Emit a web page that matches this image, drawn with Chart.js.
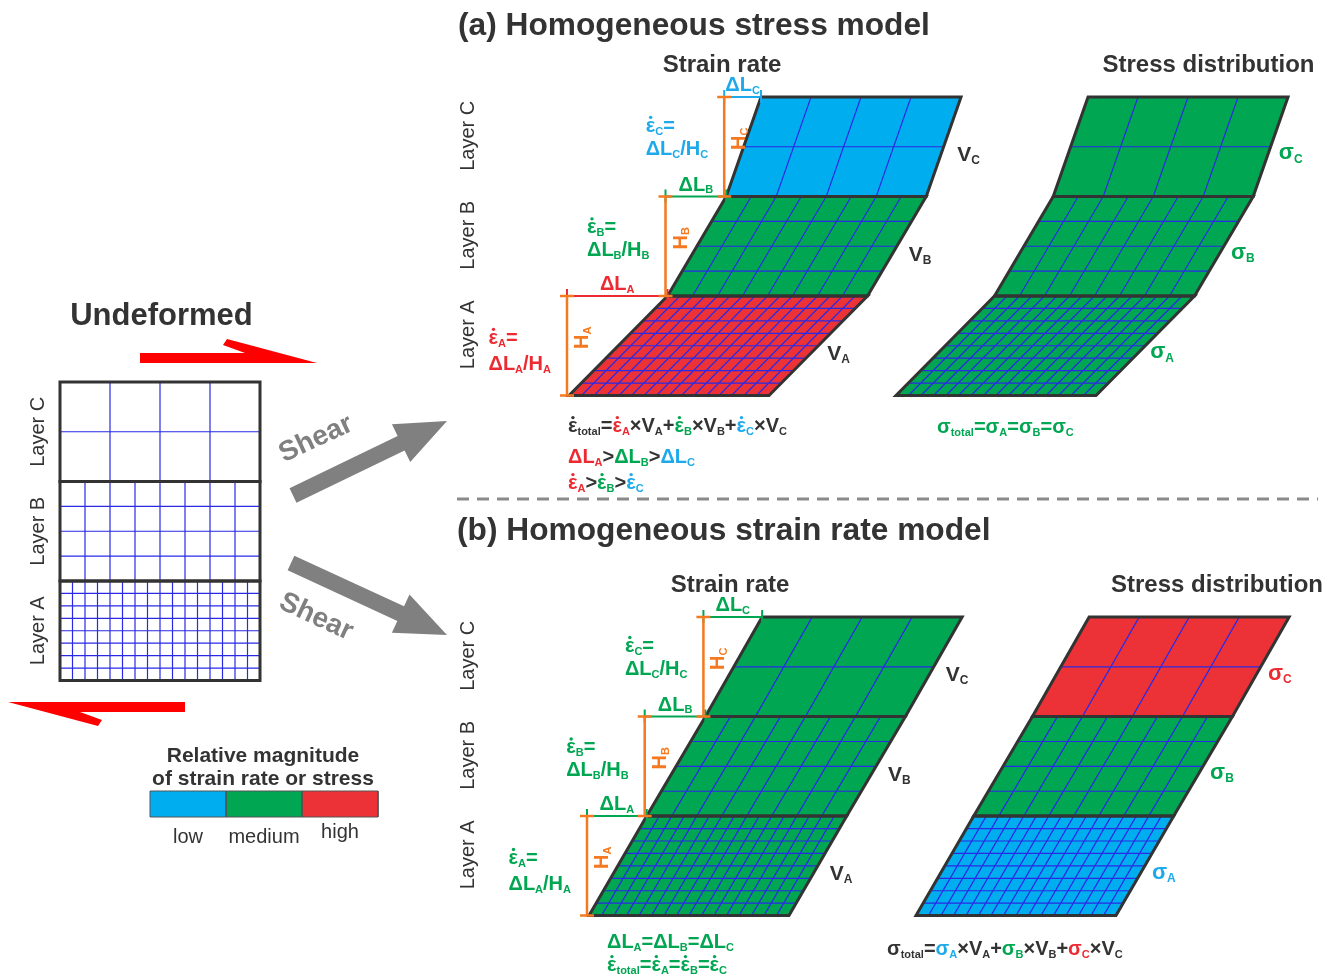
<!DOCTYPE html>
<html>
<head>
<meta charset="utf-8">
<script src="https://cdn.jsdelivr.net/npm/chart.js@4.4.0/dist/chart.umd.min.js"></script>
<style>
html,body{margin:0;padding:0;background:#ffffff;}
canvas{display:block;}
</style>
</head>
<body>
<canvas id="c" width="1339" height="977"></canvas>
<script>
// ====================== DATA ======================
const layerNames = ['A', 'B', 'C'];
const gridColumns = [16, 8, 4];          // cells across each layer
const gridRows = [8, 4, 2];              // cells through each layer
const levelNames = ['low', 'medium', 'high'];
// (a) homogeneous stress model: shear offset ΔL of each layer (in layer thicknesses)
const offsetsStressModel = [0.99, 0.59, 0.35];
const strainLevelsStressModel = ['high', 'medium', 'low'];
const stressLevelsStressModel = ['medium', 'medium', 'medium'];
// (b) homogeneous strain rate model
const offsetsStrainModel = [0.58, 0.59, 0.57];
const strainLevelsStrainModel = ['medium', 'medium', 'medium'];
const stressLevelsStrainModel = ['low', 'medium', 'high'];
// undeformed stack
const offsetsUndeformed = [0, 0, 0];
const levelsUndeformed = ['none', 'none', 'none'];

// ====================== STYLE ======================
const FAM = '"Liberation Sans", Arial, Helvetica, sans-serif';
const FILL = { low: '#00aeef', medium: '#00a651', high: '#ed3237' };
const INK = { low: '#1eaaea', medium: '#00a651', high: '#ec2a32', k: '#333333', o: '#f47920' };
const DARK = '#333333', ORANGE = '#f47920', GRID = '#2a2ae6', GRAY = '#808080', RED = '#fe0000';

// ====================== LAYOUT ======================
const T = 99.5;   // layer thickness (px)
const W = 200;    // layer width (px)
const blocks = [
  { kind: 'undeformed', x0: 60,  y0: 680.5, offsets: offsetsUndeformed,  levels: levelsUndeformed },
  { kind: 'strain',     x0: 569, y0: 395.5, offsets: offsetsStressModel, levels: strainLevelsStressModel, model: 'a' },
  { kind: 'stress',     x0: 896, y0: 395.5, offsets: offsetsStressModel, levels: stressLevelsStressModel, model: 'a' },
  { kind: 'strain',     x0: 589, y0: 915.6, offsets: offsetsStrainModel, levels: strainLevelsStrainModel, model: 'b' },
  { kind: 'stress',     x0: 916, y0: 915.6, offsets: offsetsStrainModel, levels: stressLevelsStrainModel, model: 'b' },
];
const epsLineDy = [[-9, 17], [-20, 3], [-22, 1]];   // two-line ε formula offsets from layer middle

function layerGeom(b, i) {
  let xb = b.x0;
  for (let k = 0; k < i; k++) xb += b.offsets[k] * T;
  const yb = b.y0 - i * T;
  const xt = xb + b.offsets[i] * T;
  const yt = yb - T;
  return { xb, yb, xt, yt, mid: yb - T / 2 };
}
function rightEdgeAt(b, i, y) {
  const g = layerGeom(b, i);
  return g.xb + W + (g.yb - y) / T * (g.xt - g.xb);
}

// ====================== DATASETS ======================
const datasets = [];
function addLine(points, opts) {
  datasets.push(Object.assign({
    data: points.map(p => ({ x: p[0], y: p[1] })),
    pointRadius: 0, pointHoverRadius: 0, clip: false, spanGaps: false, tension: 0, fill: false
  }, opts));
}
function addSegments(segs, opts) {
  const pts = [];
  segs.forEach(s => { pts.push(s[0], s[1], [s[1][0], null]); });
  addLine(pts, opts);
}
function addShape(points, color, order) {
  addLine(points, { fill: 'shape', backgroundColor: color, borderWidth: 0, borderColor: 'rgba(0,0,0,0)', order });
}

blocks.forEach(b => {
  layerNames.forEach((name, i) => {
    const g = layerGeom(b, i);
    const quad = [[g.xb, g.yb], [g.xb + W, g.yb], [g.xt + W, g.yt], [g.xt, g.yt]];
    if (b.levels[i] !== 'none') addShape(quad, FILL[b.levels[i]], 40);
    const segs = [];
    for (let j = 1; j < gridRows[i]; j++) {
      const f = j / gridRows[i];
      const y = g.yb - f * T, dx = f * (g.xt - g.xb);
      segs.push([[g.xb + dx, y], [g.xb + dx + W, y]]);
    }
    for (let k = 1; k < gridColumns[i]; k++) {
      const d = k * W / gridColumns[i];
      segs.push([[g.xb + d, g.yb], [g.xt + d, g.yt]]);
    }
    addSegments(segs, { borderColor: GRID, borderWidth: 1.2, order: 30 });
    addLine(quad.concat([quad[0], quad[1]]), { borderColor: DARK, borderWidth: 3, borderJoinStyle: 'miter', order: 20 });
  });
  if (b.kind === 'strain') {
    layerNames.forEach((name, i) => {
      const g = layerGeom(b, i);
      const hx = g.xb - 2;
      const c = INK[b.levels[i]];
      addSegments([[[hx, g.yt], [g.xt, g.yt]], [[hx, g.yt - 7], [hx, g.yt + 6]], [[g.xt, g.yt - 7], [g.xt, g.yt + 6]]],
        { borderColor: c, borderWidth: 2, order: 8 });
      addSegments([[[hx, g.yb], [hx, g.yt]], [[hx - 7, g.yb], [hx + 7, g.yb]], [[hx - 7, g.yt], [hx + 7, g.yt]]],
        { borderColor: ORANGE, borderWidth: 2.5, order: 6 });
    });
  }
});

// red shear-sense harpoons (top pointing right, bottom pointing left)
const harpoonShape = [[-177, -10], [-72, -10], [-94, -18], [-90, -24], [0, 0], [-177, 0]];
function addHarpoon(tx, ty, dir) {
  addShape(harpoonShape.map(p => [tx + dir * p[0], ty + dir * p[1]]), RED, 5);
}
addHarpoon(317, 363, 1);
addHarpoon(8, 702, -1);

// grey "Shear" arrows
function addArrow(tail, tip, sh, hl, hh) {
  const dx = tip[0] - tail[0], dy = tip[1] - tail[1], L = Math.hypot(dx, dy);
  const ux = dx / L, uy = dy / L, nx = -uy, ny = ux;
  const bx = tip[0] - ux * hl, by = tip[1] - uy * hl;
  addShape([
    [tail[0] + nx * sh, tail[1] + ny * sh], [bx + nx * sh, by + ny * sh], [bx + nx * hh, by + ny * hh],
    tip, [bx - nx * hh, by - ny * hh], [bx - nx * sh, by - ny * sh], [tail[0] - nx * sh, tail[1] - ny * sh]
  ], GRAY, 5);
}
addArrow([293, 495.5], [447, 421], 8, 51, 21);
addArrow([291, 563], [447, 635], 8, 51, 21);

// dashed separator
addLine([[457, 499], [1318, 499]], { borderColor: '#8a8a8a', borderWidth: 3, borderDash: [12, 8], order: 5 });

// legend colour bar
const legX = 150, legY = 791, legW = 76, legH = 26;
levelNames.forEach((lv, i) => {
  const x = legX + i * legW;
  addShape([[x, legY], [x + legW, legY], [x + legW, legY + legH], [x, legY + legH]], FILL[lv], 40);
});
addLine([[legX, legY], [legX + 3 * legW, legY], [legX + 3 * legW, legY + legH], [legX, legY + legH], [legX, legY]],
  { borderColor: '#555555', borderWidth: 1, order: 20 });
addSegments(levelNames.slice(1).map((lv, i) => [[legX + (i + 1) * legW, legY], [legX + (i + 1) * legW, legY + legH]]),
  { borderColor: '#555555', borderWidth: 1, order: 20 });

// ====================== RICH TEXT ======================
function parseRich(str, def) {
  const out = []; let color = def; let i = 0;
  while (i < str.length) {
    const ch = str[i];
    if (ch === '[') { const j = str.indexOf(']', i); color = INK[str.slice(i + 1, j)]; i = j + 1; continue; }
    if (ch === '_' && str[i + 1] === '{') { const j = str.indexOf('}', i); out.push({ t: str.slice(i + 2, j), sub: true, color }); i = j + 1; continue; }
    if (ch === '\u0307') { out[out.length - 1].dot = true; i++; continue; }
    out.push({ t: ch, sub: false, color }); i++;
  }
  return out;
}
function richLayout(ctx, str, o) {
  const size = o.size || 20, subSize = o.subSize || Math.round(size * 0.56);
  const mainFont = `bold ${size}px ${FAM}`, subFont = `bold ${subSize}px ${FAM}`;
  const segs = parseRich(str, o.color || DARK);
  let w = 0;
  segs.forEach(s => { ctx.font = s.sub ? subFont : mainFont; s.w = ctx.measureText(s.t).width; w += s.w; });
  return { segs, w, size, mainFont, subFont };
}
function drawRich(ctx, str, x, y, o) {
  const L = richLayout(ctx, str, o);
  ctx.save();
  ctx.translate(x, y);
  if (o.rotate) ctx.rotate(o.rotate);
  let cx = o.align === 'right' ? -L.w : o.align === 'center' ? -L.w / 2 : 0;
  const base = L.size * 0.35;
  ctx.textBaseline = 'alphabetic'; ctx.textAlign = 'left';
  L.segs.forEach(s => {
    ctx.font = s.sub ? L.subFont : L.mainFont;
    ctx.fillStyle = s.color;
    ctx.fillText(s.t, cx, s.sub ? base + L.size * 0.14 : base);
    if (s.dot) { ctx.beginPath(); ctx.arc(cx + s.w * 0.52, base - L.size * 0.72, L.size * 0.085, 0, Math.PI * 2); ctx.fill(); }
    cx += s.w;
  });
  ctx.restore();
  return L.w;
}
function plain(ctx, t, x, y, font, color, align, baseline, rot) {
  ctx.save();
  ctx.translate(x, y);
  if (rot) ctx.rotate(rot);
  ctx.font = font; ctx.fillStyle = color; ctx.textAlign = align || 'left'; ctx.textBaseline = baseline || 'alphabetic';
  ctx.fillText(t, 0, 0);
  ctx.restore();
}

const textPlugin = {
  id: 'diagramText',
  afterDatasetsDraw(chart) {
    const ctx = chart.ctx;
    const X = v => chart.scales.x.getPixelForValue(v);
    const Y = v => chart.scales.y.getPixelForValue(v);

    plain(ctx, '(a) Homogeneous stress model', X(458), Y(35), `bold 31.7px ${FAM}`, DARK);
    plain(ctx, '(b) Homogeneous strain rate model', X(457), Y(540), `bold 31.7px ${FAM}`, DARK);
    plain(ctx, 'Undeformed', X(161.5), Y(325), `bold 31px ${FAM}`, DARK, 'center');

    // column headings
    blocks.forEach(b => {
      if (b.kind === 'undeformed') return;
      const g = layerGeom(b, 2);
      const cx = b.kind === 'strain' ? (b.model === 'a' ? 722 : 730) : (b.model === 'a' ? 1208.5 : 1217);
      plain(ctx, b.kind === 'strain' ? 'Strain rate' : 'Stress distribution', X(cx), Y(g.yt - 25), `bold 24px ${FAM}`, DARK, 'center');
    });

    // layer labels
    blocks.forEach(b => {
      if (b.kind === 'stress') return;
      layerNames.forEach((n, i) => {
        const g = layerGeom(b, i);
        const lx = b.kind === 'undeformed' ? 38 : 468;
        const ly = b.kind === 'undeformed' ? g.mid : g.mid - 11;
        plain(ctx, 'Layer ' + n, X(lx), Y(ly), `20px ${FAM}`, DARK, 'center', 'middle', -Math.PI / 2);
      });
    });

    // strain blocks annotations
    blocks.filter(b => b.kind === 'strain').forEach(b => {
      layerNames.forEach((n, i) => {
        const g = layerGeom(b, i);
        const hx = g.xb - 2;
        const col = b.levels[i];
        drawRich(ctx, `[${col}]ΔL_{${n}}`, X((hx + g.xt) / 2), Y(g.yt - 13), { size: 20, align: 'center' });
        drawRich(ctx, `[o]H_{${n}}`, X(hx + 14), Y(g.mid - 8), { size: 20, align: 'center', rotate: -Math.PI / 2 });
        const l2 = `[${col}]ΔL_{${n}}/H_{${n}}`;
        const w2 = richLayout(ctx, l2, { size: 20 }).w;
        const left = hx - 16 - w2;
        drawRich(ctx, `[${col}]ε\u0307_{${n}}=`, X(left), Y(g.mid + epsLineDy[i][0]), { size: 20 });
        drawRich(ctx, l2, X(left), Y(g.mid + epsLineDy[i][1]), { size: 20 });
        const vy = g.mid + 7;
        drawRich(ctx, `[k]V_{${n}}`, X(rightEdgeAt(b, i, vy) + 16), Y(vy), { size: 21 });
      });
    });
    // stress blocks labels
    blocks.filter(b => b.kind === 'stress').forEach(b => {
      layerNames.forEach((n, i) => {
        const g = layerGeom(b, i);
        const sy = g.mid + 5;
        drawRich(ctx, `[${b.levels[i]}]σ_{${n}}`, X(rightEdgeAt(b, i, sy) + 10), Y(sy), { size: 22 });
      });
    });

    // summary formulas
    const sa = strainLevelsStressModel, ta = stressLevelsStressModel;
    const sb = strainLevelsStrainModel, tb = stressLevelsStrainModel;
    const cmp = (o, i) => o[i] > o[i + 1] + 0.05 ? '>' : '=';
    drawRich(ctx, `[k]ε\u0307_{total}=[${sa[0]}]ε\u0307_{A}[k]×V_{A}+[${sa[1]}]ε\u0307_{B}[k]×V_{B}+[${sa[2]}]ε\u0307_{C}[k]×V_{C}`, X(568), Y(425), { size: 20 });
    drawRich(ctx, `[${sa[0]}]ΔL_{A}[k]${cmp(offsetsStressModel, 0)}[${sa[1]}]ΔL_{B}[k]${cmp(offsetsStressModel, 1)}[${sa[2]}]ΔL_{C}`, X(568), Y(456), { size: 20 });
    drawRich(ctx, `[${sa[0]}]ε\u0307_{A}[k]>[${sa[1]}]ε\u0307_{B}[k]>[${sa[2]}]ε\u0307_{C}`, X(568), Y(482), { size: 20 });
    drawRich(ctx, `[${ta[0]}]σ_{total}=σ_{A}=σ_{B}=σ_{C}`, X(937), Y(426), { size: 20 });
    drawRich(ctx, `[${sb[0]}]ΔL_{A}${cmp(offsetsStrainModel, 0)}ΔL_{B}${cmp(offsetsStrainModel, 1)}ΔL_{C}`, X(607), Y(941), { size: 20 });
    drawRich(ctx, `[${sb[0]}]ε\u0307_{total}=ε\u0307_{A}=ε\u0307_{B}=ε\u0307_{C}`, X(607), Y(964), { size: 20 });
    drawRich(ctx, `[k]σ_{total}=[${tb[0]}]σ_{A}[k]×V_{A}+[${tb[1]}]σ_{B}[k]×V_{B}+[${tb[2]}]σ_{C}[k]×V_{C}`, X(887), Y(948), { size: 20 });

    // shear labels
    plain(ctx, 'Shear', X(316), Y(439), `bold 28px ${FAM}`, GRAY, 'center', 'middle', -25 * Math.PI / 180);
    plain(ctx, 'Shear', X(316), Y(617), `bold 28px ${FAM}`, GRAY, 'center', 'middle', 25 * Math.PI / 180);

    // legend
    plain(ctx, 'Relative magnitude', X(263), Y(762), `bold 21px ${FAM}`, DARK, 'center');
    plain(ctx, 'of strain rate or stress', X(263), Y(785), `bold 21px ${FAM}`, DARK, 'center');
    const legDy = [0, 0, -5];
    levelNames.forEach((lv, i) => {
      plain(ctx, lv, X(legX + (i + 0.5) * legW), Y(843 + legDy[i]), `20px ${FAM}`, DARK, 'center');
    });
  }
};

new Chart(document.getElementById('c'), {
  type: 'line',
  data: { datasets },
  options: {
    responsive: false,
    animation: false,
    devicePixelRatio: 1,
    events: [],
    layout: { padding: 0 },
    scales: {
      x: { type: 'linear', min: 0, max: 1339, display: false },
      y: { type: 'linear', min: 0, max: 977, reverse: true, display: false }
    },
    plugins: { legend: { display: false }, tooltip: { enabled: false } },
    elements: { point: { radius: 0 }, line: { tension: 0 } }
  },
  plugins: [textPlugin]
});
</script>
</body>
</html>
